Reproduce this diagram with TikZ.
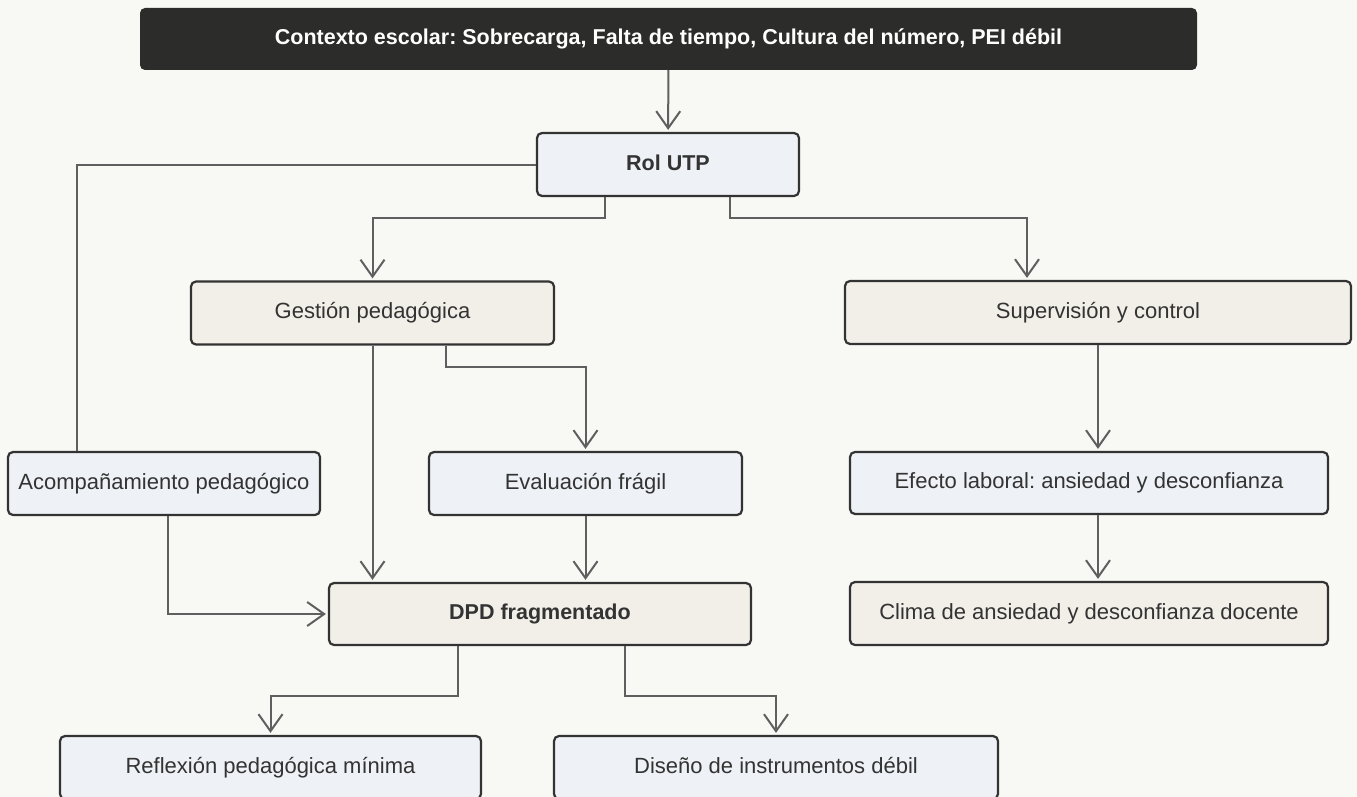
\documentclass[tikz,border=0pt]{standalone}
\usepackage{fontspec}
\setmainfont{Liberation Sans}
\usepackage{tikz}
\usetikzlibrary{arrows.meta}
\frenchspacing
\definecolor{bgcol}{HTML}{F8F9F5}
\definecolor{ctxcol}{HTML}{2C2C2A}
\definecolor{bluecol}{HTML}{EEF1F5}
\definecolor{sandcol}{HTML}{F2EEE8}
\definecolor{edgecol}{HTML}{333333}
\definecolor{linecol}{HTML}{5F5F5F}
\tikzset{
  utpbase/.style={rectangle, rounded corners=5pt, inner sep=0pt, minimum height=63pt, text height=16pt, text depth=4.5pt, text=edgecol, font=\fontsize{22}{26}\selectfont},
  ctxbox/.style={utpbase, fill=ctxcol, text=white, font=\fontsize{21.5}{26}\selectfont\bfseries},
  bluebox/.style={utpbase, draw=edgecol, line width=2.2pt, fill=bluecol},
  sandbox/.style={utpbase, draw=edgecol, line width=2.2pt, fill=sandcol},
  heavy/.style={font=\fontsize{21.5}{26}\selectfont\bfseries},
  plain/.style={draw=linecol, line width=2pt},
  flow/.style={plain, -{Straight Barb[length=17pt,width=24pt,line width=2pt]}, shorten >=2pt}
}
\newcommand{\utpbox}[5] {\node at (#1) (#2) [#3, minimum width=#4] {#5};}
\newcommand{\utparrow}[2] {\draw [flow] (#1) -- (#2);}
\newcommand{\utpxthree}[3] {\draw [flow] (#1) -- (#2) -| (#3);}
\newcommand{\utpxfour}[4] {\draw [flow] (#1) -- (#2) -- (#3) -- (#4);}

\begin{document}
\begin{tikzpicture}[x=1pt,y=-1pt]

\fill [bgcol] (0,0) rectangle (1357,797);
\useasboundingbox (0,0) rectangle (1357,797);

\utpbox {668.5,39}{ctx}{ctxbox, minimum height=62pt}{1057pt}{Contexto escolar: Sobrecarga, Falta de tiempo, Cultura del número, PEI débil}
\utpbox {668,164.5}{rol}{bluebox, heavy}{262pt}{Rol UTP}
\utparrow {ctx}{rol}

\utpbox {372.5,313}{gestion}{sandbox}{363pt}{Gestión pedagógica}
\utpbox {1098,312.5}{superv}{sandbox}{506pt}{Supervisión y control}
\coordinate (rolbus1) at (605,218);
\coordinate (rolbus2) at (730,218);
\coordinate (supin) at (1027,218);
\utpxthree {rolbus1 |- rol.south}{rolbus1}{gestion}
\utpxfour {rolbus2 |- rol.south}{rolbus2}{supin}{supin |- superv.north}

\utpbox {164,483.5}{acomp}{bluebox}{312pt}{Acompañamiento pedagógico}
\coordinate (rolacomp) at (77,164.5);
\draw [plain] (rol) -- (rolacomp) -- (rolacomp |- acomp.north);

\utpbox {585.5,483.5}{evalf}{bluebox}{313pt}{Evaluación frágil}
\coordinate (gesteval) at (446,367);
\utpxthree {gesteval |- gestion.south}{gesteval}{evalf}

\utpbox {1089,483}{efecto}{bluebox, minimum height=62pt}{478pt}{Efecto laboral: ansiedad y desconfianza}
\utparrow {superv.south}{superv.south |- efecto.north}

\utpbox {540,614}{dpd}{sandbox, heavy, minimum height=62pt}{422pt}{DPD fragmentado}
\utparrow {gestion.south}{gestion.south |- dpd.north}
\utparrow {evalf.south}{evalf.south |- dpd.north}
\coordinate (acompdpd) at (168,614);
\utpxfour {acompdpd |- acomp.south}{acompdpd}{acompdpd}{dpd.west}

\utpbox {1089,613.5}{clima}{sandbox}{478pt}{Clima de ansiedad y desconfianza docente}
\utparrow {superv.south |- efecto.south}{superv.south |- clima.north}

\utpbox {270.5,767.5}{reflex}{bluebox}{421pt}{Reflexión pedagógica mínima}
\utpbox {776,767.5}{diseno}{bluebox}{444pt}{Diseño de instrumentos débil}
\coordinate (dpdref) at (458,696);
\coordinate (dpddis) at (625,696);
\utpxthree {dpdref |- dpd.south}{dpdref}{reflex}
\utpxthree {dpddis |- dpd.south}{dpddis}{diseno}

\end{tikzpicture}
\end{document}
